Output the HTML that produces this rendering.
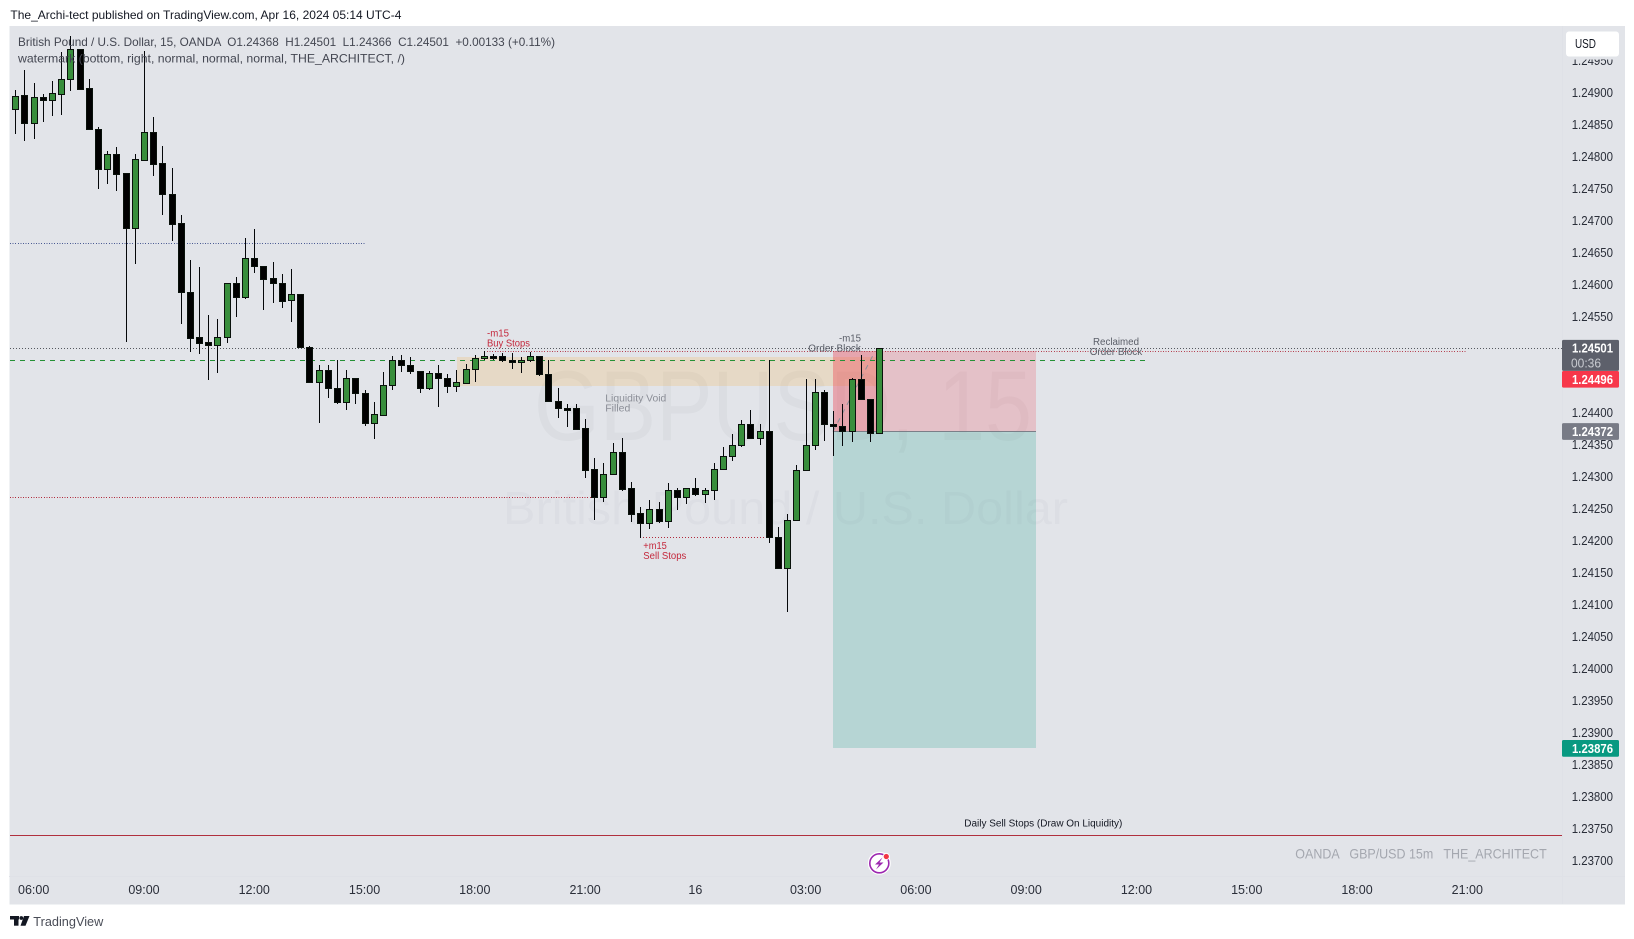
<!DOCTYPE html>
<html lang="en">
<head>
<meta charset="utf-8">
<title>GBPUSD 15m chart</title>
<style>
html,body{margin:0;padding:0;background:#fff;width:1634px;height:939px;overflow:hidden}
svg{display:block;font-family:"Liberation Sans",sans-serif}
</style>
</head>
<body>
<svg id="chart" xmlns="http://www.w3.org/2000/svg" width="1634" height="939" viewBox="0 0 1634 939">
  <defs>
    <clipPath id="pane-clip"><rect x="9" y="26" width="1553" height="850"/></clipPath>
  </defs>
  <text x="10.4" y="19" font-size="12" fill="#131722" textLength="391" lengthAdjust="spacingAndGlyphs">The_Archi-tect published on TradingView.com, Apr 16, 2024 05:14 UTC-4</text>

  <rect x="9.5" y="26" width="1615.5" height="878.5" fill="#e2e4e9"/>
  <rect x="1562" y="26" width="1" height="878" fill="#dfe1e7"/>
  <rect x="9" y="876" width="1616" height="1" fill="#dfe1e7"/>

  <text x="534" y="440" font-size="99" fill="rgba(40,50,70,.035)" textLength="498" lengthAdjust="spacingAndGlyphs">GBPUSD, 15</text>
  <text x="503" y="524" font-size="46" fill="rgba(40,50,70,.028)" textLength="565" lengthAdjust="spacingAndGlyphs">British Pound / U.S. Dollar</text>

  <g clip-path="url(#pane-clip)">
    <rect x="457" y="357" width="421" height="29" fill="rgba(255,152,0,.15)"/>
    <rect x="833" y="351" width="203" height="80" fill="rgba(242,54,69,.2)"/>
    <rect x="833" y="431" width="203" height="317" fill="rgba(8,153,129,.2)"/>
    <rect x="833" y="351" width="45" height="80" fill="rgba(242,54,69,.2)"/>
    <line x1="833" x2="1036" y1="431.5" y2="431.5" stroke="#7b7f88" shape-rendering="crispEdges"/>
    <line x1="833" y1="431.5" x2="875" y2="351.5" stroke="#8d9099" stroke-dasharray="5 5"/>

    <line x1="10" x2="365" y1="243.5" y2="243.5" stroke="#4a5a92" stroke-dasharray="1 1.6" shape-rendering="crispEdges"/>
    <line x1="10" x2="1562" y1="348.5" y2="348.5" stroke="#55585f" stroke-dasharray="1 2" shape-rendering="crispEdges"/>
    <line x1="487" x2="1466" y1="351.5" y2="351.5" stroke="#b5404f" stroke-dasharray="1 1.6" shape-rendering="crispEdges"/>
    <line x1="10" x2="1145" y1="360.5" y2="360.5" stroke="#259136" stroke-dasharray="5 5" shape-rendering="crispEdges"/>
    <line x1="10" x2="593" y1="497.5" y2="497.5" stroke="#b02a3c" stroke-dasharray="1 1.6" shape-rendering="crispEdges"/>
    <line x1="640" x2="768" y1="537.5" y2="537.5" stroke="#b02a3c" stroke-dasharray="1 2" shape-rendering="crispEdges"/>
    <line x1="10" x2="1562" y1="835.5" y2="835.5" stroke="#b0303e" shape-rendering="crispEdges"/>

    <g id="candles"></g>
  </g>

  <text x="18" y="46" font-size="12" fill="#434651" textLength="537" lengthAdjust="spacingAndGlyphs" xml:space="preserve">British Pound / U.S. Dollar, 15, OANDA  O1.24368  H1.24501  L1.24366  C1.24501  +0.00133 (+0.11%)</text>
  <text x="18" y="62.7" font-size="12" fill="#434651" textLength="387" lengthAdjust="spacingAndGlyphs">watermark (bottom, right, normal, normal, normal, THE_ARCHITECT, /)</text>

  <g font-size="10">
    <text x="487" y="336.7" fill="#c4283c" textLength="22" lengthAdjust="spacingAndGlyphs">-m15</text>
    <text x="487" y="346.7" fill="#c4283c" textLength="43" lengthAdjust="spacingAndGlyphs">Buy Stops</text>
    <text x="605.3" y="401.7" fill="#8b8e97" textLength="61" lengthAdjust="spacingAndGlyphs">Liquidity Void</text>
    <text x="605.3" y="411.7" fill="#8b8e97" textLength="25" lengthAdjust="spacingAndGlyphs">Filled</text>
    <text x="643.3" y="549" fill="#c4283c" textLength="23.5" lengthAdjust="spacingAndGlyphs">+m15</text>
    <text x="643.3" y="559" fill="#c4283c" textLength="43" lengthAdjust="spacingAndGlyphs">Sell Stops</text>
    <text x="839" y="341.7" fill="#5a5e68" textLength="22" lengthAdjust="spacingAndGlyphs">-m15</text>
    <text x="808.3" y="351.7" fill="#5a5e68" textLength="52.5" lengthAdjust="spacingAndGlyphs">Order Block</text>
    <text x="1093" y="345" fill="#5a5e68" textLength="46" lengthAdjust="spacingAndGlyphs">Reclaimed</text>
    <text x="1089.7" y="355" fill="#5a5e68" textLength="52.5" lengthAdjust="spacingAndGlyphs">Order Block</text>
    <text x="964.3" y="826.7" fill="#131722" textLength="158" lengthAdjust="spacingAndGlyphs">Daily Sell Stops (Draw On Liquidity)</text>
  </g>

  <text x="1295.3" y="858.3" font-size="14" fill="#a4a7af" textLength="251.4" lengthAdjust="spacingAndGlyphs" xml:space="preserve">OANDA   GBP/USD 15m   THE_ARCHITECT</text>

  <g>
    <circle cx="879.3" cy="863.3" r="11.5" fill="#fff"/>
    <circle cx="879.3" cy="863.3" r="9.5" fill="none" stroke="#9c27b0" stroke-width="1.6"/>
    <polygon points="882.5,857.5 875,864.5 879,864.5 876,869.5 883.5,862.5 879.5,862.5" fill="#9c27b0"/>
    <circle cx="886.3" cy="856.5" r="3.6" fill="#fff"/>
    <circle cx="886.3" cy="856.5" r="2.6" fill="#f23645"/>
  </g>

  <g id="price-axis"></g>
  <g id="time-axis"></g>
  <g id="price-badges"></g>

  <rect x="1563" y="27" width="61" height="32.5" fill="#e2e4e9"/>
  <g>
    <rect x="1566" y="31.5" width="53" height="25" rx="3" fill="#fff"/>
    <text x="1575" y="48" font-size="12.5" fill="#131722" textLength="21" lengthAdjust="spacingAndGlyphs">USD</text>
  </g>

  <g>
    <rect x="10" y="916" width="9" height="3.5" fill="#131722"/>
    <rect x="14" y="916" width="4.5" height="9.7" fill="#131722"/>
    <circle cx="21.3" cy="918" r="1.9" fill="#131722"/>
    <polygon points="24,916 29.5,916 25.5,925.7 20.5,925.7" fill="#131722"/>
    <text x="33.3" y="926" font-size="13" fill="#4a4d57" textLength="70" lengthAdjust="spacingAndGlyphs">TradingView</text>
  </g>
</svg>
<script>
const opens = [1.24874,1.24896,1.24852,1.24893,1.24888,1.24898,1.24922,1.24968,1.24907,1.24844,
1.24781,1.24805,1.24775,1.24688,1.24795,1.24838,1.24790,1.24741,1.24696,1.24588,
1.24518,1.24510,1.24506,1.24519,1.24602,1.24581,1.24641,1.24630,1.24610,1.24602,
1.24576,1.24585,1.24502,1.24448,1.24466,1.24438,1.24416,1.24454,1.24431,1.24384,
1.24397,1.24444,1.24483,1.24474,1.24465,1.24439,1.24462,1.24455,1.24441,1.24447,
1.24469,1.24485,1.24489,1.24488,1.24482,1.24480,1.24483,1.24489,1.24461,1.24419,
1.24408,1.24408,1.24376,1.24312,1.24269,1.24304,1.24338,1.24282,1.24243,1.24227,
1.24249,1.24231,1.24280,1.24269,1.24282,1.24273,1.24280,1.24312,1.24332,1.24349,
1.24382,1.24360,1.24371,1.24206,1.24158,1.24233,1.24310,1.24349,1.24433,1.24383,
1.24380,1.24371,1.24452,1.24421,1.24368];
const highs = [1.24905,1.24935,1.24915,1.24898,1.24918,1.24963,1.24989,1.24968,1.24921,1.24846,
1.24809,1.24815,1.24775,1.24804,1.24965,1.24862,1.24817,1.24782,1.24709,1.24638,
1.24628,1.24553,1.24546,1.24602,1.24612,1.24673,1.24687,1.24630,1.24635,1.24616,
1.24624,1.24585,1.24504,1.24475,1.24474,1.24483,1.24466,1.24455,1.24435,1.24416,
1.24463,1.24488,1.24490,1.24487,1.24465,1.24465,1.24474,1.24460,1.24466,1.24476,
1.24490,1.24496,1.24491,1.24493,1.24493,1.24487,1.24495,1.24489,1.24482,1.24438,
1.24414,1.24413,1.24390,1.24330,1.24321,1.24352,1.24360,1.24291,1.24252,1.24263,
1.24260,1.24290,1.24282,1.24282,1.24298,1.24283,1.24321,1.24346,1.24366,1.24388,
1.24405,1.24382,1.24482,1.24221,1.24241,1.24319,1.24452,1.24452,1.24435,1.24403,
1.24413,1.24455,1.24490,1.24421,1.24501];
const lows = [1.24835,1.24825,1.24827,1.24855,1.24864,1.24865,1.24903,1.24906,1.24844,1.24750,
1.24757,1.24746,1.24511,1.24632,1.24795,1.24770,1.24709,1.24669,1.24539,1.24495,
1.24492,1.24451,1.24462,1.24509,1.24550,1.24578,1.24619,1.24560,1.24572,1.24564,
1.24542,1.24502,1.24448,1.24384,1.24423,1.24414,1.24405,1.24414,1.24380,1.24359,
1.24397,1.24436,1.24464,1.24460,1.24431,1.24436,1.24409,1.24431,1.24433,1.24445,
1.24448,1.24482,1.24482,1.24480,1.24468,1.24462,1.24479,1.24458,1.24417,1.24391,
1.24378,1.24373,1.24298,1.24233,1.24261,1.24304,1.24277,1.24230,1.24205,1.24219,
1.24228,1.24220,1.24248,1.24258,1.24270,1.24259,1.24264,1.24312,1.24325,1.24346,
1.24360,1.24350,1.24197,1.24158,1.24088,1.24233,1.24310,1.24341,1.24356,1.24333,
1.24348,1.24355,1.24421,1.24355,1.24366];
const closes = [1.24895,1.24852,1.24893,1.24888,1.24899,1.24922,1.24968,1.24906,1.24844,1.24781,
1.24805,1.24773,1.24688,1.24796,1.24838,1.24789,1.24741,1.24695,1.24588,1.24517,
1.24509,1.24506,1.24519,1.24602,1.24581,1.24641,1.24630,1.24609,1.24602,1.24575,
1.24585,1.24502,1.24448,1.24466,1.24438,1.24416,1.24454,1.24431,1.24384,1.24398,
1.24444,1.24483,1.24474,1.24465,1.24439,1.24462,1.24455,1.24441,1.24448,1.24469,
1.24485,1.24488,1.24488,1.24482,1.24480,1.24483,1.24488,1.24461,1.24419,1.24408,
1.24407,1.24375,1.24311,1.24269,1.24304,1.24338,1.24281,1.24242,1.24227,1.24249,
1.24231,1.24280,1.24269,1.24282,1.24273,1.24280,1.24312,1.24332,1.24349,1.24382,
1.24360,1.24371,1.24206,1.24158,1.24233,1.24310,1.24349,1.24433,1.24383,1.24380,
1.24371,1.24452,1.24421,1.24368,1.24501];
const priceTicks = ['1.24950','1.24900','1.24850','1.24800','1.24750','1.24700','1.24650','1.24600','1.24550','1.24500','1.24450','1.24400','1.24350','1.24300','1.24250','1.24200','1.24150','1.24100','1.24050','1.24000','1.23950','1.23900','1.23850','1.23800','1.23750','1.23700'];
const hiddenPriceTicks = ['1.24500','1.24450'];
const timeTickLabels = ['06:00','09:00','12:00','15:00','18:00','21:00','16','03:00','06:00','09:00','12:00','15:00','18:00','21:00'];
const timeTickBars = [2,14,26,38,50,62,74,86,98,110,122,134,146,158];
const entryPrice = 1.24372;
const stopPrice = 1.24496;
const targetPrice = 1.23876;
const lastPrice = 1.24501;
const countdown = '00:36';

const NS = 'http://www.w3.org/2000/svg';
function xScale(i){ return 15.3 + 9.19 * i; }
function yScale(p){ return 92.7 + (1.249 - p) * 64000; }
function make(tag, attrs){
  const el = document.createElementNS(NS, tag);
  for (const k in attrs) el.setAttribute(k, attrs[k]);
  return el;
}

const candleLayer = document.getElementById('candles');
opens.forEach(function(o, i){
  const up = closes[i] >= o;
  const cx = Math.round(xScale(i)) + 0.5;
  const top = Math.round(yScale(Math.max(o, closes[i])));
  let bot = Math.round(yScale(Math.min(o, closes[i])));
  if (bot - top < 2) bot = top + 2;
  const g = make('g', {'shape-rendering':'crispEdges'});
  
  
  const wick = make('line', {x1:cx, x2:cx, y1:Math.round(yScale(highs[i])), y2:Math.round(yScale(lows[i])), stroke:'#05070a'});
  
  
  g.appendChild(wick);
  const body = make('rect', {x:cx-3, y:top+0.5, width:6, height:bot-top, fill:up?'#388e3c':'#000', stroke:'#0a120c'});
  
  
  g.appendChild(body);
  candleLayer.appendChild(g);
});

const priceAxis = document.getElementById('price-axis');
priceTicks.forEach(function(label){
  if (hiddenPriceTicks.indexOf(label) >= 0) return;
  const t = make('text', {x:1571.7, y:yScale(parseFloat(label))+4.3, 'font-size':12.5, fill:'#2a2e39', textLength:41.3, lengthAdjust:'spacingAndGlyphs'});
  
  
  t.textContent = label;
  priceAxis.appendChild(t);
});

const timeAxis = document.getElementById('time-axis');
timeTickLabels.forEach(function(label, k){
  const t = make('text', {x:xScale(timeTickBars[k]), y:894, 'font-size':12.5, fill:'#2a2e39', 'text-anchor':'middle'});
  
  
  t.textContent = label;
  timeAxis.appendChild(t);
});

const badges = document.getElementById('price-badges');
function badge(price, fill, h, offset){
  const y = yScale(price) + offset;
  const r = make('rect', {x:1562, y:y, width:57, height:h, fill:fill, rx:1.5});
  
  
  badges.appendChild(r);
  const t = make('text', {x:1572, y:y+12.8, 'font-size':12.5, 'font-weight':'bold', fill:'#fff', textLength:41, lengthAdjust:'spacingAndGlyphs'});
  
  
  t.textContent = price.toFixed(5);
  badges.appendChild(t);
  return y;
}
const lastY = badge(lastPrice, '#5d606b', 31, -8.2);
const cd = make('text', {x:1571, y:lastY+27.5, 'font-size':12.5, fill:'#c9cbd1', textLength:30, lengthAdjust:'spacingAndGlyphs'});


cd.textContent = countdown;
badges.appendChild(cd);
badge(stopPrice, '#f7374a', 16.7, 19.7);
badge(entryPrice, '#787b86', 16.7, -7.5);
badge(targetPrice, '#089981', 16.7, -8);
</script>
</body>
</html>
